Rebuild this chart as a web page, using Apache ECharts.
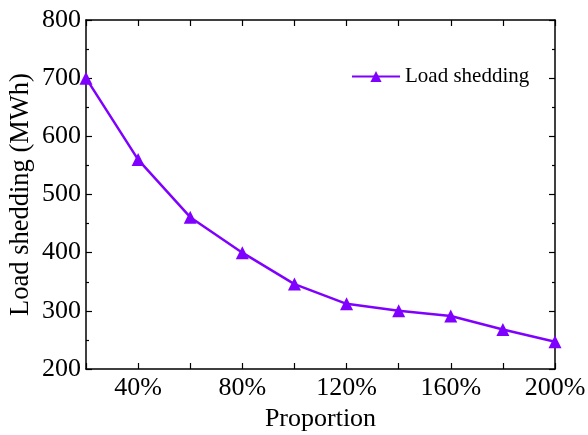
<!DOCTYPE html>
<html><head><meta charset="utf-8">
<script src="https://cdn.jsdelivr.net/npm/echarts@6/dist/echarts.min.js"></script>
<style>html,body{margin:0;padding:0;background:#fff}#c{width:588px;height:435px}</style>
</head><body><div id="c"></div>
<script>
const proportions = [20, 40, 60, 80, 100, 120, 140, 160, 180, 200];
const loadShedding = [700, 560, 461, 400, 346, 312, 300, 291, 268, 247];
const seriesName = 'Load shedding';
const xTitle = 'Proportion';
const yTitle = 'Load shedding (MWh)';

const font = 'Liberation Serif, Times New Roman, serif';
const purple = '#8000ff';
const chart = echarts.init(document.getElementById('c'));
const axisCommon = {
  axisLine: {show: true, onZero: false, lineStyle: {color: '#000', width: 1.5}},
  axisTick: {show: true, inside: true, length: 6, lineStyle: {color: '#000', width: 1.2}},
  splitLine: {show: false}
};
chart.setOption({
  animation: false,
  grid: {left: 86, right: 33, top: 20, bottom: 66, containLabel: false, outerBoundsMode: 'none'},
  legend: {
    data: [seriesName], left: 346, top: 61, itemWidth: 48, itemHeight: 14,
    textStyle: {fontFamily: font, fontSize: 21, color: '#000'}, itemGap: 6
  },
  xAxis: [
    Object.assign({
      type: 'value', min: 20, max: 200, interval: 20, position: 'bottom',
      name: xTitle, nameLocation: 'middle', nameGap: 37,
      nameTextStyle: {fontFamily: font, fontSize: 26, color: '#000'},
      axisLabel: {fontFamily: font, fontSize: 26, color: '#000', margin: 6,
        formatter: v => (v % 40 === 0) ? v + '%' : ''}
    }, axisCommon),
    Object.assign({
      type: 'value', min: 20, max: 200, interval: 20, position: 'top',
      axisLabel: {show: false}
    }, axisCommon)
  ],
  yAxis: [
    Object.assign({
      type: 'value', min: 200, max: 800, interval: 100, position: 'left',
      name: yTitle, nameLocation: 'middle', nameGap: 51, nameMoveOverlap: false,
      nameTextStyle: {fontFamily: font, fontSize: 26.5, color: '#000'},
      axisLabel: {fontFamily: font, fontSize: 26, color: '#000', margin: 5},
      minorTick: {show: true, splitNumber: 2, length: 3, lineStyle: {color: '#000', width: 1.2}}
    }, axisCommon),
    Object.assign({
      type: 'value', min: 200, max: 800, interval: 100, position: 'right',
      axisLabel: {show: false},
      minorTick: {show: true, splitNumber: 2, length: 3, lineStyle: {color: '#000', width: 1.2}}
    }, axisCommon)
  ],
  series: [{
    name: seriesName, type: 'line',
    data: proportions.map((p, i) => [p, loadShedding[i]]),
    symbol: 'triangle', symbolSize: 13,
    lineStyle: {color: purple, width: 2.5},
    itemStyle: {color: purple},
    clip: false
  }]
});
</script></body></html>
